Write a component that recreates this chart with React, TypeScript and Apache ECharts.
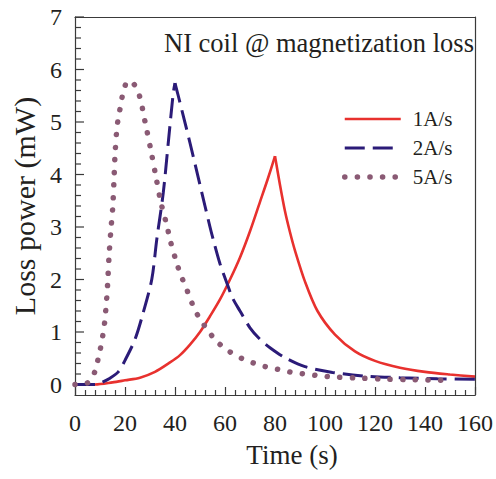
import React, { useEffect, useRef } from "react";
import * as echarts from "echarts";

const seriesNames = ["1A/s", "2A/s", "5A/s"];

const red1A: [number, number][] = [
  [0, 0], [8, 0], [15, 0.04], [20, 0.08], [26, 0.13], [32, 0.24], [38, 0.42], [42, 0.56],
  [46, 0.76], [50, 1.0], [54, 1.3], [58, 1.62], [62, 2.0], [66, 2.42], [70, 2.92], [74, 3.48],
  [77, 3.9], [80, 4.35], [82, 3.8], [84, 3.3], [86, 2.9], [88, 2.55], [92, 1.96], [97, 1.4],
  [104, 0.95], [112, 0.63], [120, 0.45], [130, 0.32], [140, 0.24], [150, 0.19], [160, 0.15],
];

const blue2A: [number, number][] = [
  [0, 0], [8, 0], [10.7, 0.04], [14, 0.12], [17.3, 0.24], [20, 0.46], [24, 0.86], [27.3, 1.37],
  [30.7, 2.0], [32.7, 2.76], [35.3, 3.65], [37.3, 4.6], [39.3, 5.55], [40, 5.74], [41.3, 5.5],
  [46, 4.6], [50, 3.8], [54, 3.0], [55.3, 2.76], [58, 2.3], [60.7, 1.94], [63, 1.65], [66, 1.4],
  [70, 1.08], [74, 0.86], [78, 0.7], [84, 0.51], [92, 0.34], [103, 0.23], [116, 0.16],
  [130, 0.13], [145, 0.11], [160, 0.1],
];

const purple5A: [number, number][] = [
  [0, 0], [5, 0.03], [8, 0.25], [9.3, 0.5], [10.4, 0.74], [11.3, 0.99], [12, 1.24], [12.4, 1.48],
  [12.8, 1.71], [13.1, 1.96], [13.6, 2.43], [14.3, 2.91], [15.1, 3.38], [15.6, 3.9], [16, 4.37],
  [16.7, 4.85], [17.3, 5.07], [18.3, 5.32], [19.3, 5.57], [21.2, 5.78], [23, 5.75], [24.4, 5.66],
  [26.3, 5.42], [27.3, 5.17], [28.4, 4.92], [30.4, 4.45], [32.4, 3.95], [34.4, 3.46], [36.9, 3.0],
  [38, 2.76], [40.9, 2.28], [42.8, 2.03], [44.7, 1.81], [46.7, 1.56], [49.2, 1.31], [52.7, 1.06],
  [56.7, 0.82], [61.7, 0.63], [67, 0.49], [72, 0.4], [77, 0.33], [82, 0.28], [87, 0.23], [92, 0.2],
  [97, 0.17], [105, 0.14], [115, 0.12], [125, 0.1], [135, 0.09], [148, 0.08],
];

// y-axis tick values (major every 1, minor every 0.2)
const yMajorTicks = [0, 1, 2, 3, 4, 5, 6, 7];
const yMinorTicks: number[] = [];
for (let i = 0; i < 7; i++) {
  for (let j = 1; j < 5; j++) yMinorTicks.push(Math.round((i + j * 0.2) * 10) / 10);
}

const FONT = '"Liberation Serif", "Times New Roman", serif';
const TEXT = "#231f20";
const AXIS = "#3a3a3a";

const RED = "#e8312e";
const BLUE = "#2b1b78";
const PURPLE = "#8a5a74";

// split a curve at its peak so the cusp stays sharp when smoothing
function splitAtPeak(d: [number, number][]) {
  let k = 0;
  d.forEach((p, i) => { if (p[1] > d[k][1]) k = i; });
  return [d.slice(0, k + 1), d.slice(k)];
}

const isInt = (v: number) => Math.abs(v - Math.round(v)) < 1e-6;

// inward tick marks on the left axis, placed through the chart's own scale
function tickSeries(values: number[], len: number) {
  return {
    type: "custom",
    xAxisIndex: 0,
    yAxisIndex: 0,
    silent: true,
    clip: false,
    z: 2,
    data: values.map((v) => [0, v]),
    renderItem: (_params: any, api: any) => {
      const p = api.coord([api.value(0), api.value(1)]);
      return {
        type: "line",
        shape: { x1: p[0], y1: p[1], x2: p[0] + len, y2: p[1] },
        style: { stroke: AXIS, lineWidth: 1.2 },
      };
    },
  };
}

export default function App() {
  const ref = useRef<HTMLDivElement>(null);
  useEffect(() => {
    if (!ref.current) return;
    const chart = echarts.init(ref.current, undefined, { renderer: "svg" });
    const [redUp, redDown] = splitAtPeak(red1A);
    const [blueUp, blueDown] = splitAtPeak(blue2A);
    const redStyle = { color: RED, width: 2.6 };
    const blueStyle = { color: BLUE, width: 3, type: [20, 8] };
    const purpleStyle = { color: PURPLE, width: 5.5, type: [0.1, 12.5], cap: "round" };
    const line = { show: true, onZero: false, lineStyle: { color: AXIS, width: 1.2 } };
    const common = { type: "line", symbol: "none", smooth: 0.3, xAxisIndex: 0, yAxisIndex: 0 };
    chart.setOption({
      animation: false,
      title: {
        text: "NI coil @ magnetization loss",
        left: 164,
        top: 29,
        padding: 0,
        textStyle: { fontFamily: FONT, fontSize: 26.5, fontWeight: "normal", color: TEXT },
      },
      legend: {
        data: [
          { name: seriesNames[0], lineStyle: { ...redStyle } },
          { name: seriesNames[1], lineStyle: { ...blueStyle } },
          { name: seriesNames[2], lineStyle: { ...purpleStyle } },
        ],
        orient: "vertical",
        left: 342,
        top: 108,
        padding: 0,
        itemWidth: 56,
        itemHeight: 14,
        itemGap: 7,
        itemStyle: { opacity: 0 },
        lineStyle: { width: "inherit" },
        textStyle: { fontFamily: FONT, fontSize: 21, color: TEXT, lineHeight: 22, padding: [0, 0, 0, 7] },
      },
      grid: { left: 75, right: 21, top: 17, bottom: 84 },
      xAxis: [
        {
          type: "value",
          min: 0,
          max: 160,
          interval: 20,
          position: "bottom",
          name: "Time (s)",
          nameLocation: "middle",
          nameGap: 46,
          nameTextStyle: { fontFamily: FONT, fontSize: 27, color: TEXT, padding: [0, 0, 0, 34] },
          axisLine: line,
          axisTick: { show: true, inside: true, length: 8, lineStyle: { color: AXIS, width: 1.2 } },
          minorTick: { show: true, splitNumber: 5, length: 5, lineStyle: { color: AXIS, width: 1.2 } },
          axisLabel: { fontFamily: FONT, fontSize: 24, color: TEXT, margin: 16 },
          splitLine: { show: false },
        },
        {
          type: "value",
          min: 0,
          max: 160,
          position: "top",
          axisLine: line,
          axisTick: { show: false },
          axisLabel: { show: false },
          splitLine: { show: false },
        },
      ],
      yAxis: [
        {
          type: "value",
          min: -0.2,
          max: 7,
          interval: 0.2,
          position: "left",
          name: "Loss power (mW)",
          nameLocation: "middle",
          nameGap: 36,
          nameTextStyle: { fontFamily: FONT, fontSize: 30, color: TEXT, padding: [12, 0, 0, 0] },
          axisLine: line,
          axisTick: { show: false },
          axisLabel: {
            fontFamily: FONT,
            fontSize: 24,
            color: TEXT,
            margin: 13,
            formatter: (v: number) => (isInt(v) && v >= 0 ? String(Math.round(v)) : ""),
          },
          splitLine: { show: false },
        },
        {
          type: "value",
          min: -0.2,
          max: 7,
          position: "right",
          axisLine: line,
          axisTick: { show: false },
          axisLabel: { show: false },
          splitLine: { show: false },
        },
      ],
      series: [
        tickSeries(yMajorTicks, 9),
        tickSeries(yMinorTicks, 6),
        { ...common, name: seriesNames[0], data: redUp, lineStyle: redStyle, itemStyle: { color: RED }, z: 3 },
        { ...common, name: seriesNames[0], data: redDown, lineStyle: redStyle, itemStyle: { color: RED }, z: 3 },
        { ...common, name: seriesNames[1], data: blueUp, lineStyle: blueStyle, itemStyle: { color: BLUE }, z: 4 },
        { ...common, name: seriesNames[1], data: blueDown, lineStyle: blueStyle, itemStyle: { color: BLUE }, z: 4 },
        { ...common, name: seriesNames[2], data: purple5A, lineStyle: purpleStyle, itemStyle: { color: PURPLE }, z: 5 },
      ],
    });
    return () => chart.dispose();
  }, []);
  return <div ref={ref} style={{ position: "absolute", left: 0, top: 0, width: 496, height: 479 }} />;
}
